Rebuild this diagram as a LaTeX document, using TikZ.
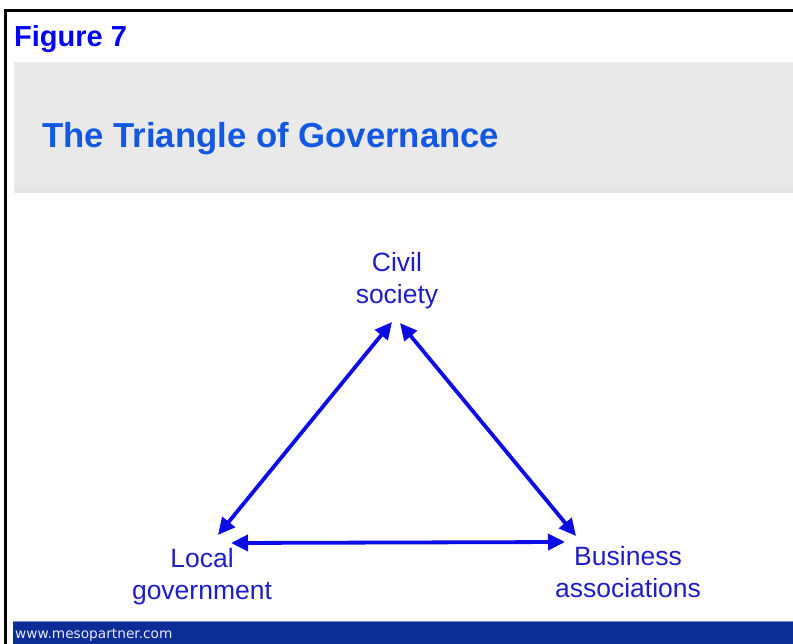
\documentclass[tikz,border=0pt]{standalone}
\usepackage{fontspec}
\setmainfont{Liberation Sans}
\newfontfamily\footfont{DejaVu Sans}
\usetikzlibrary{arrows.meta}

\definecolor{figblue}{RGB}{0,0,255}
\definecolor{titleblue}{RGB}{18,88,226}
\definecolor{labelblue}{RGB}{30,30,200}
\definecolor{arrowblue}{RGB}{12,12,230}
\definecolor{bandgray}{RGB}{233,233,233}
\definecolor{footblue}{RGB}{12,44,150}

\tikzset{
  label text/.style={font=\fontsize{26.5}{32}\selectfont, text=labelblue, align=center, inner sep=0pt, anchor=base},
  link/.style={draw=arrowblue, line width=3.8pt, {Triangle[length=17pt,width=16pt]}-{Triangle[length=17pt,width=16pt]}},
}

\begin{document}
\begin{tikzpicture}[x=1pt,y=-1pt]
  \useasboundingbox (0,0) rectangle (793,644);
  \fill[white] (0,0) rectangle (793,644);

  % frame lines
  \draw[black, line width=3pt] (5.5,644) -- (5.5,11) -- (793,11);

  % heading
  \node[font=\fontsize{29}{34}\selectfont\bfseries, text=figblue, anchor=base west, inner sep=0pt] (fig) at (14,47) {Figure 7};

  % title band
  \fill[bandgray] (14,62) rectangle (793,193);
  \fill[bandgray!98.5!black] (14,186) rectangle (793,193);
  \node[font=\fontsize{34.7}{40}\selectfont\bfseries, text=titleblue, anchor=base west, inner sep=0pt] (title) at (42,147.5) {The Triangle of Governance};

  % the three actors
  \node[label text] (civil) at (397,304) {Civil\\society};
  \node[label text] (local) at (202,599) {Local\\government};
  \node[label text] (business) at (628,597) {Business\\associations};

  % arrow ends
  \coordinate (cL) at (392,322);
  \coordinate (cR) at (400,323);
  \coordinate (lT) at (218,535);
  \coordinate (lR) at (231,543);
  \coordinate (bT) at (576,536);
  \coordinate (bL) at (565,542);

  \draw[link] (cL) -- (lT);
  \draw[link] (cR) -- (bT);
  \draw[link] (lR) -- (bL);

  % footer band
  \fill[footblue] (13,622) rectangle (793,644);
  \draw[footblue!55!white, line width=1pt] (13,621.5) -- (793,621.5);
  \node[font=\footfont\fontsize{13.7}{15}\selectfont, text=white!92!blue, anchor=base west, inner sep=0pt] (url) at (15,638) {www.mesopartner.com};
\end{tikzpicture}
\end{document}
